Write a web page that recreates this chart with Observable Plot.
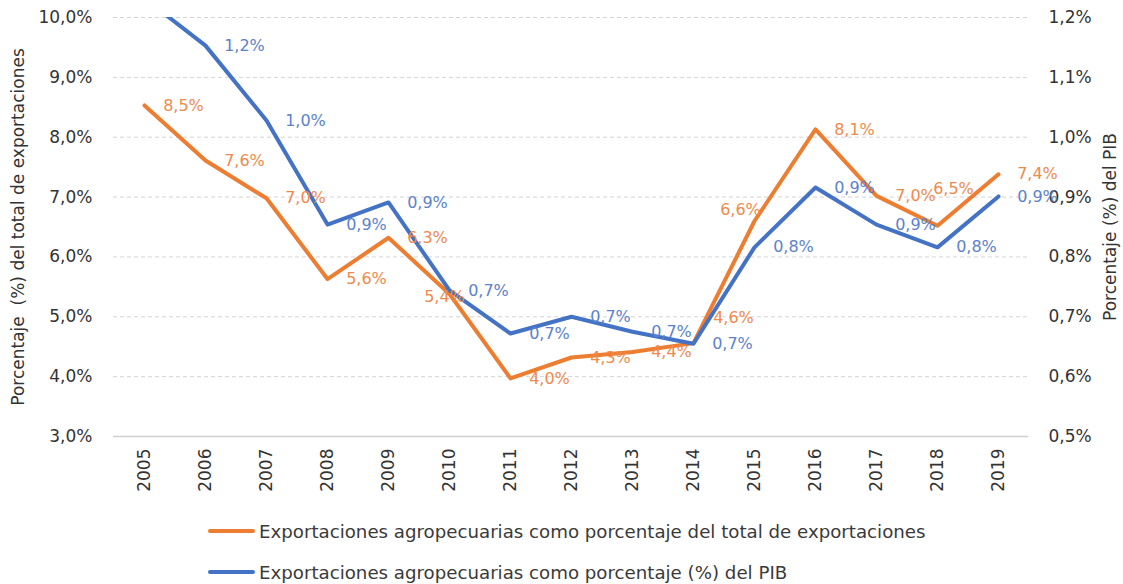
<!DOCTYPE html>
<html>
<head>
<meta charset="utf-8">
<script src="https://cdn.jsdelivr.net/npm/d3@7"></script>
<script src="https://cdn.jsdelivr.net/npm/@observablehq/plot@0.6"></script>
<style>
  html, body { margin: 0; padding: 0; background: #ffffff; }
  #wrap { position: relative; width: 1123px; height: 584px; font-family: "DejaVu Sans", sans-serif; }
  .leg { position: absolute; left: 208px; display: flex; align-items: center; font-size: 18.2px; color: #3a3a3a; white-space: nowrap; }
  .leg .sw { width: 47px; height: 4px; border-radius: 2px; margin-right: 4px; }
</style>
</head>
<body>
<div id="wrap"></div>
<script>
// ---- Data ----
const years = ["2005","2006","2007","2008","2009","2010","2011","2012","2013","2014","2015","2016","2017","2018","2019"];
// Exportaciones agropecuarias como porcentaje del total de exportaciones (left axis, %)
const pctTotalExports = [8.53, 7.61, 6.98, 5.63, 6.32, 5.38, 3.97, 4.32, 4.41, 4.56, 6.60, 8.13, 7.02, 6.52, 7.38];
// Exportaciones agropecuarias como porcentaje (%) del PIB (right axis, %)
const pctGDP = [1.232, 1.153, 1.028, 0.854, 0.891, 0.744, 0.672, 0.700, 0.675, 0.655, 0.816, 0.916, 0.854, 0.816, 0.901];
const leftTicks = [3, 4, 5, 6, 7, 8, 9, 10];
const rightTicks = [0.5, 0.6, 0.7, 0.8, 0.9, 1.0, 1.1, 1.2];
const seriesNames = [
  "Exportaciones agropecuarias como porcentaje del total de exportaciones",
  "Exportaciones agropecuarias como porcentaje (%) del PIB"
];
const leftTitle = "Porcentaje  (%) del total de exportaciones";
const rightTitle = "Porcentaje (%) del PIB";

const orange = "#ED7D31", blue = "#4472C4";
const orangeText = "#F08A4C", blueText = "#5B82CC";
const inkColor = "#333333";

const rows = years.map((year, i) => ({year, exp: pctTotalExports[i], gdp: pctGDP[i]}));
const fmt = v => v.toFixed(1).replace(".", ",") + "%";
// map right-axis values onto the left-axis scale
const toLeft = v => 3 + (v - 0.5) * 10;
const fromLeft = v => (v - 3) / 10 + 0.5;
const rightMax = rightTicks[rightTicks.length - 1];

const special = ["2010", "2014", "2015", "2018"];
const labelStyle = {fontSize: 16, textAnchor: "middle"};

const chart = Plot.plot({
  width: 1123,
  height: 500,
  marginLeft: 113,
  marginRight: 95,
  marginTop: 17,
  marginBottom: 64,
  style: {fontFamily: "DejaVu Sans, sans-serif", fontSize: "17px", color: inkColor, background: "white", overflow: "visible"},
  x: {type: "point", domain: years, padding: 0.5},
  y: {domain: [3, 10]},
  marks: [
    Plot.ruleY(leftTicks.filter(t => t > 3), {stroke: "#d4d4d4", strokeWidth: 1, strokeDasharray: "4,3"}),
    Plot.ruleY([3], {stroke: "#d0d0d0", strokeWidth: 1.5}),
    Plot.axisX({tickSize: 0, tickRotate: -90, tickPadding: 12, fontSize: 17, label: null}),
    Plot.axisY({anchor: "left", ticks: leftTicks, tickFormat: d => d.toFixed(1).replace(".", ",") + "%", tickSize: 0, tickPadding: 21, fontSize: 17, label: null}),
    Plot.axisY({anchor: "right", ticks: rightTicks.map(toLeft), tickFormat: d => fromLeft(d).toFixed(1).replace(".", ",") + "%", tickSize: 0, tickPadding: 20, fontSize: 17, label: null}),
    Plot.text([leftTitle], {frameAnchor: "left", rotate: -90, dx: -95, text: d => d, fontSize: 17, fill: inkColor, textAnchor: "middle"}),
    Plot.text([rightTitle], {frameAnchor: "right", rotate: -90, dx: 82, text: d => d, fontSize: 17, fill: inkColor, textAnchor: "middle"}),
    Plot.line(rows, {x: "year", y: "exp", stroke: orange, strokeWidth: 4, strokeLinejoin: "round", strokeLinecap: "round"}),
    Plot.line(rows, {x: "year", y: d => toLeft(d.gdp), stroke: blue, strokeWidth: 4, strokeLinejoin: "round", strokeLinecap: "round", clip: true}),
    // orange data labels
    Plot.text(rows, {filter: d => !special.includes(d.year), x: "year", y: "exp", text: d => fmt(d.exp), fill: orangeText, dx: 39, ...labelStyle}),
    Plot.text(rows, {filter: d => d.year === "2010", x: "year", y: "exp", text: d => fmt(d.exp), fill: orangeText, dx: -5, dy: 3, ...labelStyle}),
    Plot.text(rows, {filter: d => d.year === "2014", x: "year", y: "exp", text: d => fmt(d.exp), fill: orangeText, dx: 40, dy: -25, ...labelStyle}),
    Plot.text(rows, {filter: d => d.year === "2015", x: "year", y: "exp", text: d => fmt(d.exp), fill: orangeText, dx: -14, dy: -11, ...labelStyle}),
    Plot.text(rows, {filter: d => d.year === "2018", x: "year", y: "exp", text: d => fmt(d.exp), fill: orangeText, dx: 16, dy: -37, ...labelStyle}),
    // blue data labels (the point above the axis maximum is off-chart, as in the reference)
    Plot.text(rows, {filter: d => d.gdp <= rightMax, x: "year", y: d => toLeft(d.gdp), text: d => fmt(d.gdp), fill: blueText, dx: 39, ...labelStyle})
  ]
});

const wrap = document.getElementById("wrap");
wrap.appendChild(chart);

const legendItems = [
  {name: seriesNames[0], color: orange, top: 531},
  {name: seriesNames[1], color: blue, top: 572}
];
for (const it of legendItems) {
  const row = document.createElement("div");
  row.className = "leg";
  row.style.top = (it.top - 11) + "px";
  row.style.height = "22px";
  const sw = document.createElement("span");
  sw.className = "sw";
  sw.style.background = it.color;
  const tx = document.createElement("span");
  tx.textContent = it.name;
  row.appendChild(sw);
  row.appendChild(tx);
  wrap.appendChild(row);
}
</script>
</body>
</html>
